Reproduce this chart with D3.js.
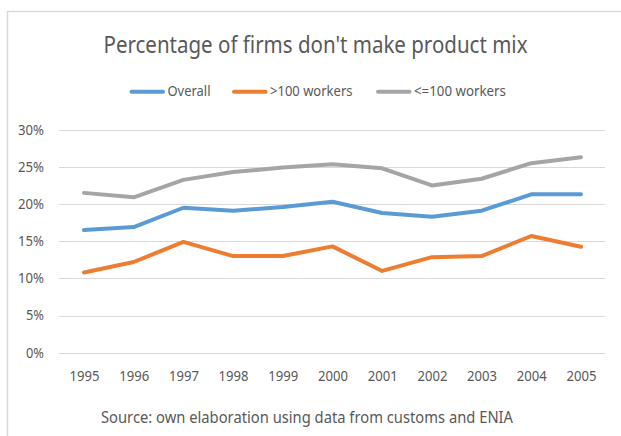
<!DOCTYPE html>
<html><head><meta charset="utf-8">
<script src="https://cdn.jsdelivr.net/npm/d3@7"></script>
<style>body{margin:0;background:#fff}svg{display:block}text{font-family:"Noto Sans","Open Sans",sans-serif;fill:#595959}</style>
</head><body>
<script>
const years = ["1995","1996","1997","1998","1999","2000","2001","2002","2003","2004","2005"];
const overall = [16.5,16.9,19.5,19.1,19.6,20.3,18.8,18.3,19.1,21.3,21.3];
const over100 = [10.8,12.2,14.9,13.0,13.0,14.3,11.0,12.85,13.0,15.7,14.25];
const under100 = [21.5,20.9,23.25,24.3,24.9,25.35,24.8,22.5,23.4,25.5,26.3];
const yTicks = [0,5,10,15,20,25,30];
const seriesNames = ["Overall", ">100 workers", "<=100 workers"];
const seriesColors = ["#5b9bd5", "#ed7d31", "#a5a5a5"];
const title = "Percentage of firms don't make product mix";
const source = "Source: own elaboration using data from customs and ENIA";

const W = 621, H = 436;
const svg = d3.select("body").append("svg").attr("width", W).attr("height", H);

// chart border
svg.append("rect").attr("x", 7.5).attr("y", 11.5).attr("width", W + 10).attr("height", H + 10)
  .attr("fill", "#fff").attr("stroke", "#d9d9d9").attr("stroke-width", 1.5);

const x = d3.scalePoint().domain(years).range([84, 581]);
const y = d3.scaleLinear().domain([0, 30]).range([352.7, 129.7]);

// gridlines
svg.append("g").selectAll("line").data(yTicks).join("line")
  .attr("x1", 59).attr("x2", 605)
  .attr("y1", d => Math.round(y(d)) + 0.5).attr("y2", d => Math.round(y(d)) + 0.5)
  .attr("stroke", "#d9d9d9").attr("stroke-width", 1);

// y axis labels
const yAxis = d3.axisLeft(y).tickValues(yTicks).tickFormat(d => d + "%").tickSize(0).tickPadding(0);
const gy = svg.append("g").attr("transform", "translate(44,0)").call(yAxis);
gy.select(".domain").remove();
gy.selectAll("text").attr("font-size", 13.5).attr("fill", "#595959")
  .attr("font-family", '"Noto Sans",sans-serif')
  .attr("textLength", d => d >= 10 ? 26 : 18).attr("lengthAdjust", "spacingAndGlyphs");

// x axis labels
const xAxis = d3.axisBottom(x).tickSize(0).tickPadding(0);
const gx = svg.append("g").attr("transform", "translate(0,371.5)").call(xAxis);
gx.select(".domain").remove();
gx.selectAll("text").attr("font-size", 13.5).attr("fill", "#595959")
  .attr("font-family", '"Noto Sans",sans-serif')
  .attr("textLength", 30).attr("lengthAdjust", "spacingAndGlyphs");

// lines
const allSeries = [overall, over100, under100];
const line = d3.line().x((d, i) => x(years[i])).y(d => y(d));
svg.append("g").selectAll("path").data(allSeries).join("path")
  .attr("d", line).attr("fill", "none")
  .attr("stroke", (d, i) => seriesColors[i]).attr("stroke-width", 4)
  .attr("stroke-linecap", "round").attr("stroke-linejoin", "round");

// title
svg.append("text").attr("x", 103.5).attr("y", 53.3).text(title)
  .attr("font-size", 24).attr("textLength", 424).attr("lengthAdjust", "spacingAndGlyphs");

// legend
const legX = [130, 232.5, 376.5];
const legTextW = [43, 82.5, 92];
const leg = svg.append("g").selectAll("g").data(seriesNames).join("g")
  .attr("transform", (d, i) => `translate(${legX[i]},0)`);
leg.append("line").attr("x1", 1.5).attr("x2", 33).attr("y1", 91.7).attr("y2", 91.7)
  .attr("stroke", (d, i) => seriesColors[i]).attr("stroke-width", 4).attr("stroke-linecap", "round");
leg.append("text").attr("x", 37.5).attr("y", 96).text(d => d)
  .attr("font-size", 14.5).attr("textLength", (d, i) => legTextW[i]).attr("lengthAdjust", "spacingAndGlyphs");

// source
svg.append("text").attr("x", 101).attr("y", 422.5).text(source)
  .attr("font-size", 16).attr("textLength", 412).attr("lengthAdjust", "spacingAndGlyphs");
</script>
</body></html>
